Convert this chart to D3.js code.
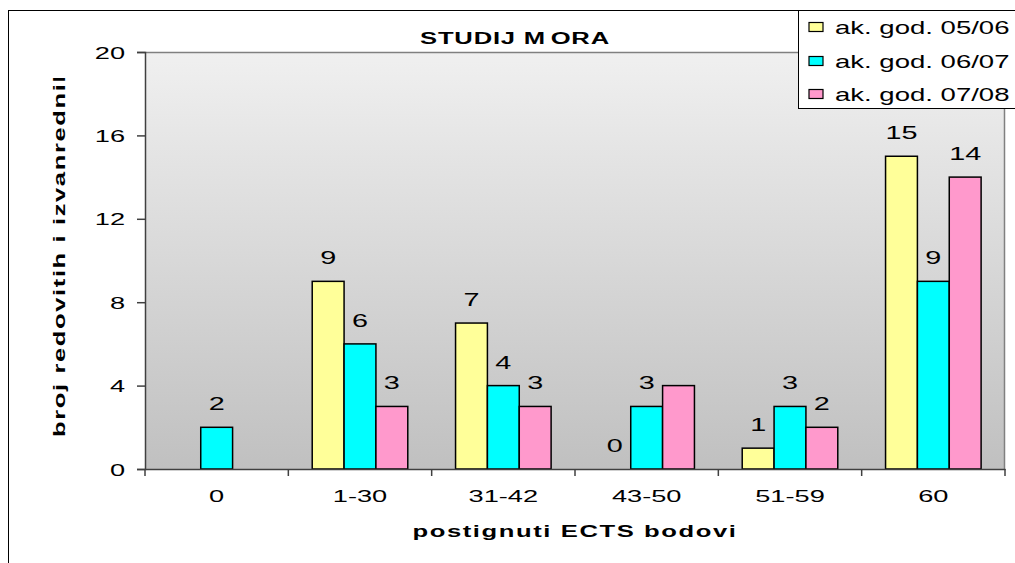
<!DOCTYPE html>
<html>
<head>
<meta charset="utf-8">
<script src="https://cdn.jsdelivr.net/npm/d3@7"></script>
<style>
  html, body { margin: 0; padding: 0; background: #fff; }
  svg { display: block; font-family: "Liberation Sans", Arial, sans-serif; }
</style>
</head>
<body>
<svg id="chart" width="1015" height="563"></svg>
<script>
// ---- data ----
const categories = ["0", "1-30", "31-42", "43-50", "51-59", "60"];
const seriesNames = ["ak. god. 05/06", "ak. god. 06/07", "ak. god. 07/08"];
const values0506 = [null, 9, 7, 0, 1, 15];
const values0607 = [2, 6, 4, 3, 3, 9];
const values0708 = [null, 3, 3, 4, 2, 14];
const seriesColors = ["#FFFF99", "#00FFFF", "#FF99CC"];
const yTickValues = [0, 4, 8, 12, 16, 20];
const titleText = "STUDIJ MORA";
const xTitleText = "postignuti ECTS bodovi";
const yTitleText = "broj redovitih i izvanrednih";
// data labels not shown in the original: [category index, series index]
const hiddenLabels = [[3, 2]];

const seriesValues = [values0506, values0607, values0708];
const SX = 1.6; // horizontal stretch of the original text rendering

const svg = d3.select("#chart");
const plot = { left: 145, right: 1005, top: 52, bottom: 469 };

// gradient for plot background
const defs = svg.append("defs");
const grad = defs.append("linearGradient").attr("id", "bg").attr("x1", 0).attr("y1", 0).attr("x2", 0).attr("y2", 1);
grad.append("stop").attr("offset", "0%").attr("stop-color", "#f0f0f0");
grad.append("stop").attr("offset", "100%").attr("stop-color", "#c0c0c0");
defs.append("clipPath").attr("id", "yclip").append("rect")
  .attr("x", 0).attr("y", 78).attr("width", 140).attr("height", 480);

// outer chart border
svg.append("rect").attr("x", 8.5).attr("y", 10.5).attr("width", 1040).attr("height", 600)
  .attr("fill", "none").attr("stroke", "#000").attr("stroke-width", 1);

// scales
const x0 = d3.scaleBand().domain(categories).range([plot.left, plot.right]).padding(0);
const x1 = d3.scaleBand().domain(d3.range(seriesNames.length)).range([0, x0.bandwidth()])
  .paddingInner(0).paddingOuter(0.75);
const y = d3.scaleLinear().domain([0, 20]).range([plot.bottom, plot.top]);

// plot area
svg.append("rect").attr("x", plot.left).attr("y", plot.top)
  .attr("width", plot.right - plot.left).attr("height", plot.bottom - plot.top)
  .attr("fill", "url(#bg)");
svg.append("line").attr("x1", plot.left).attr("x2", plot.right).attr("y1", plot.top + 0.5).attr("y2", plot.top + 0.5)
  .attr("stroke", "#808080").attr("stroke-width", 1.5);
svg.append("line").attr("x1", plot.right - 0.5).attr("x2", plot.right - 0.5).attr("y1", plot.top).attr("y2", plot.bottom)
  .attr("stroke", "#808080").attr("stroke-width", 1.5);

// bars
const groups = svg.append("g").selectAll("g").data(categories).join("g")
  .attr("transform", d => `translate(${x0(d)},0)`);
groups.each(function(cat, ci) {
  const g = d3.select(this);
  seriesValues.forEach((vals, si) => {
    const v = vals[ci];
    if (v === null) return;
    if (v > 0) {
      g.append("rect")
        .attr("x", x1(si)).attr("y", y(v))
        .attr("width", x1.bandwidth()).attr("height", y(0) - y(v))
        .attr("fill", seriesColors[si]).attr("stroke", "#000").attr("stroke-width", 1.5);
    }
    const hidden = hiddenLabels.some(([c, s]) => c === ci && s === si);
    if (hidden) return;
    g.append("text")
      .attr("text-anchor", "middle")
      .attr("font-size", 18)
      .attr("transform", `translate(${x1(si) + x1.bandwidth() / 2},${y(v) - 17}) scale(${SX},1)`)
      .text(v);
  });
});

// y axis
const yAxis = svg.append("g").attr("transform", `translate(${plot.left},0)`)
  .call(d3.axisLeft(y).tickValues(yTickValues).tickSize(8).tickPadding(0));
yAxis.select(".domain").attr("stroke", "#404040").attr("stroke-width", 1.5);
yAxis.selectAll(".tick line").attr("stroke", "#404040").attr("stroke-width", 1.5);
yAxis.selectAll(".tick text")
  .attr("x", null).attr("dy", null)
  .attr("font-size", 17).attr("fill", "#000").attr("text-anchor", "end")
  .attr("font-family", "Liberation Sans, Arial, sans-serif")
  .attr("transform", `translate(-20,6) scale(${SX},1)`);

// x axis
const xAxis = svg.append("g").attr("transform", `translate(0,${plot.bottom})`)
  .call(d3.axisBottom(x0).tickSize(0).tickPadding(0));
xAxis.select(".domain").attr("stroke", "#404040").attr("stroke-width", 1.5);
xAxis.selectAll(".tick text")
  .attr("y", null).attr("dy", null)
  .attr("font-size", 17).attr("fill", "#000")
  .attr("font-family", "Liberation Sans, Arial, sans-serif")
  .attr("transform", `translate(0,33) scale(${SX},1)`);
const boundaries = categories.map(c => x0(c)).concat([x0.range()[1]]);
xAxis.selectAll(".bound").data(boundaries).join("line").attr("class", "bound")
  .attr("x1", d => d).attr("x2", d => d).attr("y1", 0).attr("y2", 7)
  .attr("stroke", "#404040").attr("stroke-width", 1.5);

// title (the original shows a small gap inside "MORA")
const title = svg.append("text").attr("text-anchor", "middle").attr("font-size", 16).attr("font-weight", "bold")
  .attr("letter-spacing", 0.5)
  .attr("transform", `translate(515,44) scale(${SX},1)`);
title.append("tspan").text(titleText.slice(0, 8));
title.append("tspan").attr("dx", 3).text(titleText.slice(8));

// x axis title
svg.append("text").attr("text-anchor", "middle").attr("font-size", 16).attr("font-weight", "bold")
  .attr("letter-spacing", 1)
  .attr("transform", `translate(575,537) scale(${SX},1)`).text(xTitleText);

// y axis title (clipped at top, as in the original)
svg.append("g").attr("clip-path", "url(#yclip)")
  .append("text").attr("text-anchor", "start").attr("font-size", 16).attr("font-weight", "bold")
  .attr("letter-spacing", 1)
  .attr("transform", `translate(65,437) rotate(-90) scale(${SX},1)`).text(yTitleText);

// legend
const legend = svg.append("g");
legend.append("rect").attr("x", 798.5).attr("y", 10.5).attr("width", 240).attr("height", 98)
  .attr("fill", "#fff").attr("stroke", "#000").attr("stroke-width", 1);
const rowCenters = [27, 61, 94];
const items = legend.selectAll(".item").data(seriesNames).join("g").attr("class", "item");
items.append("rect").attr("x", 809).attr("y", (d, i) => rowCenters[i] - 4.5)
  .attr("width", 14).attr("height", 9)
  .attr("fill", (d, i) => seriesColors[i]).attr("stroke", "#000").attr("stroke-width", 1.2);
items.append("text").attr("font-size", 18)
  .attr("transform", (d, i) => `translate(835,${rowCenters[i] + 6.5}) scale(1.53,1)`)
  .text(d => d);
</script>
</body>
</html>
